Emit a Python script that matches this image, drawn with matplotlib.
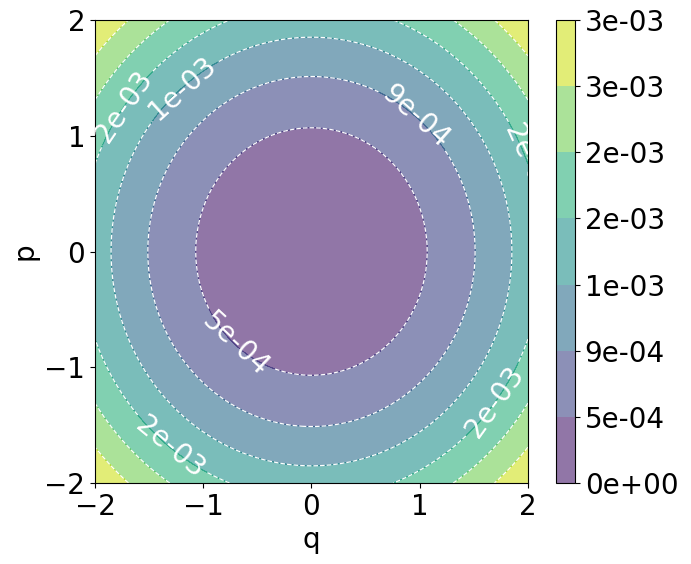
import numpy as np
import matplotlib
matplotlib.use("Agg")
import matplotlib.pyplot as plt

# Data: radially symmetric quantity on the (q, p) plane
q = np.linspace(-2, 2, 401)
p = np.linspace(-2, 2, 401)
coef = 4.0e-4
n_levels = 8

Q, P = np.meshgrid(q, p)
Z = coef * (Q**2 + P**2)
levels = np.linspace(Z.min(), Z.max(), n_levels)

# approximate label anchor spots (q, p)
label_spots = [(-0.69, -0.79), (0.99, 1.19), (-1.19, 1.41),
               (-1.75, 1.27), (2.0, 0.77), (1.70, -1.30), (-1.26, -1.63)]

fig = plt.figure(figsize=(6.91, 5.64), dpi=100)
ax = fig.add_axes([0.1375, 0.1436, 0.6265, 0.8209])
cax = fig.add_axes([0.8046, 0.1436, 0.0275, 0.8209])

cf = ax.contourf(Q, P, Z, levels=levels, cmap="viridis", alpha=0.6)
ax.contour(Q, P, Z, levels=levels, cmap="viridis", alpha=0.6, linewidths=0.8)
cl = ax.contour(Q, P, Z, levels=levels, colors="white", linestyles="dashed", linewidths=0.9)
ax.clabel(cl, fmt="%.0e", fontsize=20, colors="white", manual=label_spots)

ax.set_xlim(-2, 2)
ax.set_ylim(-2, 2)
ax.set_xlabel("q", fontsize=20)
ax.set_ylabel("p", fontsize=20)
ax.set_xticks([-2, -1, 0, 1, 2])
ax.set_yticks([-2, -1, 0, 1, 2])
ax.tick_params(labelsize=20)

cb = fig.colorbar(cf, cax=cax, format="%.0e")
cb.ax.tick_params(labelsize=20)

fig.savefig("out.png", dpi=100)
